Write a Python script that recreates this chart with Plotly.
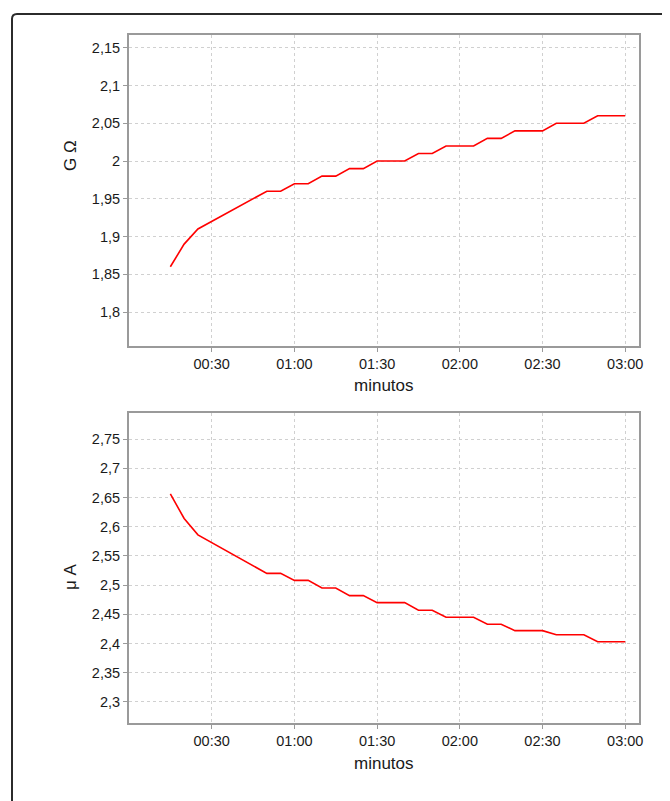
import plotly.graph_objects as go

# time in seconds
seconds = [15, 20, 25, 30, 35, 40, 45, 50, 55, 60, 65, 70, 75, 80, 85, 90, 95, 100,
           105, 110, 115, 120, 125, 130, 135, 140, 145, 150, 155, 160, 165, 170, 175, 180]
resistance_gohm = [1.86, 1.89, 1.91, 1.92, 1.93, 1.94, 1.95, 1.96, 1.96, 1.97, 1.97, 1.98, 1.98,
                   1.99, 1.99, 2.00, 2.00, 2.00, 2.01, 2.01, 2.02, 2.02, 2.02, 2.03, 2.03,
                   2.04, 2.04, 2.04, 2.05, 2.05, 2.05, 2.06, 2.06, 2.06]
current_ua = [2.656, 2.614, 2.586, 2.573, 2.560, 2.546, 2.533, 2.520, 2.520, 2.508, 2.508,
              2.495, 2.495, 2.482, 2.482, 2.470, 2.470, 2.470, 2.457, 2.457, 2.445, 2.445,
              2.445, 2.433, 2.433, 2.422, 2.422, 2.422, 2.415, 2.415, 2.415, 2.403, 2.403, 2.403]
x_tick_vals = [30, 60, 90, 120, 150, 180]
x_tick_text = ["00:30", "01:00", "01:30", "02:00", "02:30", "03:00"]
top_y_ticks = [1.8, 1.85, 1.9, 1.95, 2.0, 2.05, 2.1, 2.15]
bottom_y_ticks = [2.3, 2.35, 2.4, 2.45, 2.5, 2.55, 2.6, 2.65, 2.7, 2.75]

# page has an 8px body margin, so the figure is 8px smaller than the window
OFF = 8
W, H = 670 - OFF, 801 - OFF
ML, MR, MT, MB = 129 - OFF, W - (639 - OFF), 35 - OFF, H - (723 - OFF)
plot_w = W - ML - MR
plot_h = H - MT - MB

def fx(xs):  # screenshot x -> paper
    return (xs - OFF - ML) / plot_w

def fy(ys):  # screenshot y -> paper
    return (H - MB - (ys - OFF)) / plot_h

fig = go.Figure()
fig.add_trace(go.Scatter(x=seconds, y=resistance_gohm, mode="lines",
                         line=dict(color="#ff0000", width=1.6), xaxis="x", yaxis="y",
                         showlegend=False))
fig.add_trace(go.Scatter(x=seconds, y=current_ua, mode="lines",
                         line=dict(color="#ff0000", width=1.6), xaxis="x2", yaxis="y2",
                         showlegend=False))

font_fam = "Liberation Sans, Arial, sans-serif"
common_x = dict(range=[0, 185], tickvals=x_tick_vals, ticktext=x_tick_text,
                showline=True, mirror=True, linecolor="#9a9a9a", linewidth=2,
                showgrid=True, gridcolor="#d0d0d0", gridwidth=1, griddash="3px,3px",
                ticks="outside", ticklen=4, tickcolor="#9a9a9a", zeroline=False,
                tickfont=dict(size=14.5, color="#1a1a1a"))
common_y = dict(showline=True, mirror=True, linecolor="#9a9a9a", linewidth=2,
                showgrid=True, gridcolor="#d0d0d0", gridwidth=1, griddash="3px,3px",
                ticks="outside", ticklen=4, tickcolor="#9a9a9a", zeroline=False,
                tickfont=dict(size=14.5, color="#1a1a1a"))

fig.update_layout(
    width=W, height=H,
    margin=dict(l=ML, r=MR, t=MT, b=MB),
    paper_bgcolor="white", plot_bgcolor="white",
    separators=",.",
    font=dict(family=font_fam),
    xaxis=dict(domain=[0, 1], anchor="y", **common_x),
    yaxis=dict(domain=[fy(346), 1], anchor="x", range=[1.755, 2.167],
               tickvals=top_y_ticks, **common_y),
    xaxis2=dict(domain=[0, 1], anchor="y2", **common_x),
    yaxis2=dict(domain=[0, fy(413)], anchor="x2", range=[2.264, 2.7945],
                tickvals=bottom_y_ticks, **common_y),
)

title_font = dict(size=17, color="#1a1a1a", family=font_fam)
for text, xs, ys, ang in [("G Ω", 70, 156, -90), ("μ A", 70, 577, -90),
                          ("minutos", 384, 385, 0), ("minutos", 384, 763, 0)]:
    fig.add_annotation(text=text, x=fx(xs), y=fy(ys), xref="paper", yref="paper",
                       xanchor="center", yanchor="middle", textangle=ang,
                       showarrow=False, font=title_font)

# outer rounded frame (top-left corner visible)
x0 = fx(12)
x1 = fx(680)
y0 = fy(14)
y1 = fy(810)
rx = 5 / plot_w
ry = 5 / plot_h
path = f"M {x0},{y1} L {x0},{y0 - ry} Q {x0},{y0} {x0 + rx},{y0} L {x1},{y0}"
fig.add_shape(type="path", xref="paper", yref="paper", path=path,
              line=dict(color="#2b2b2b", width=2))

fig.write_html("out.html")
